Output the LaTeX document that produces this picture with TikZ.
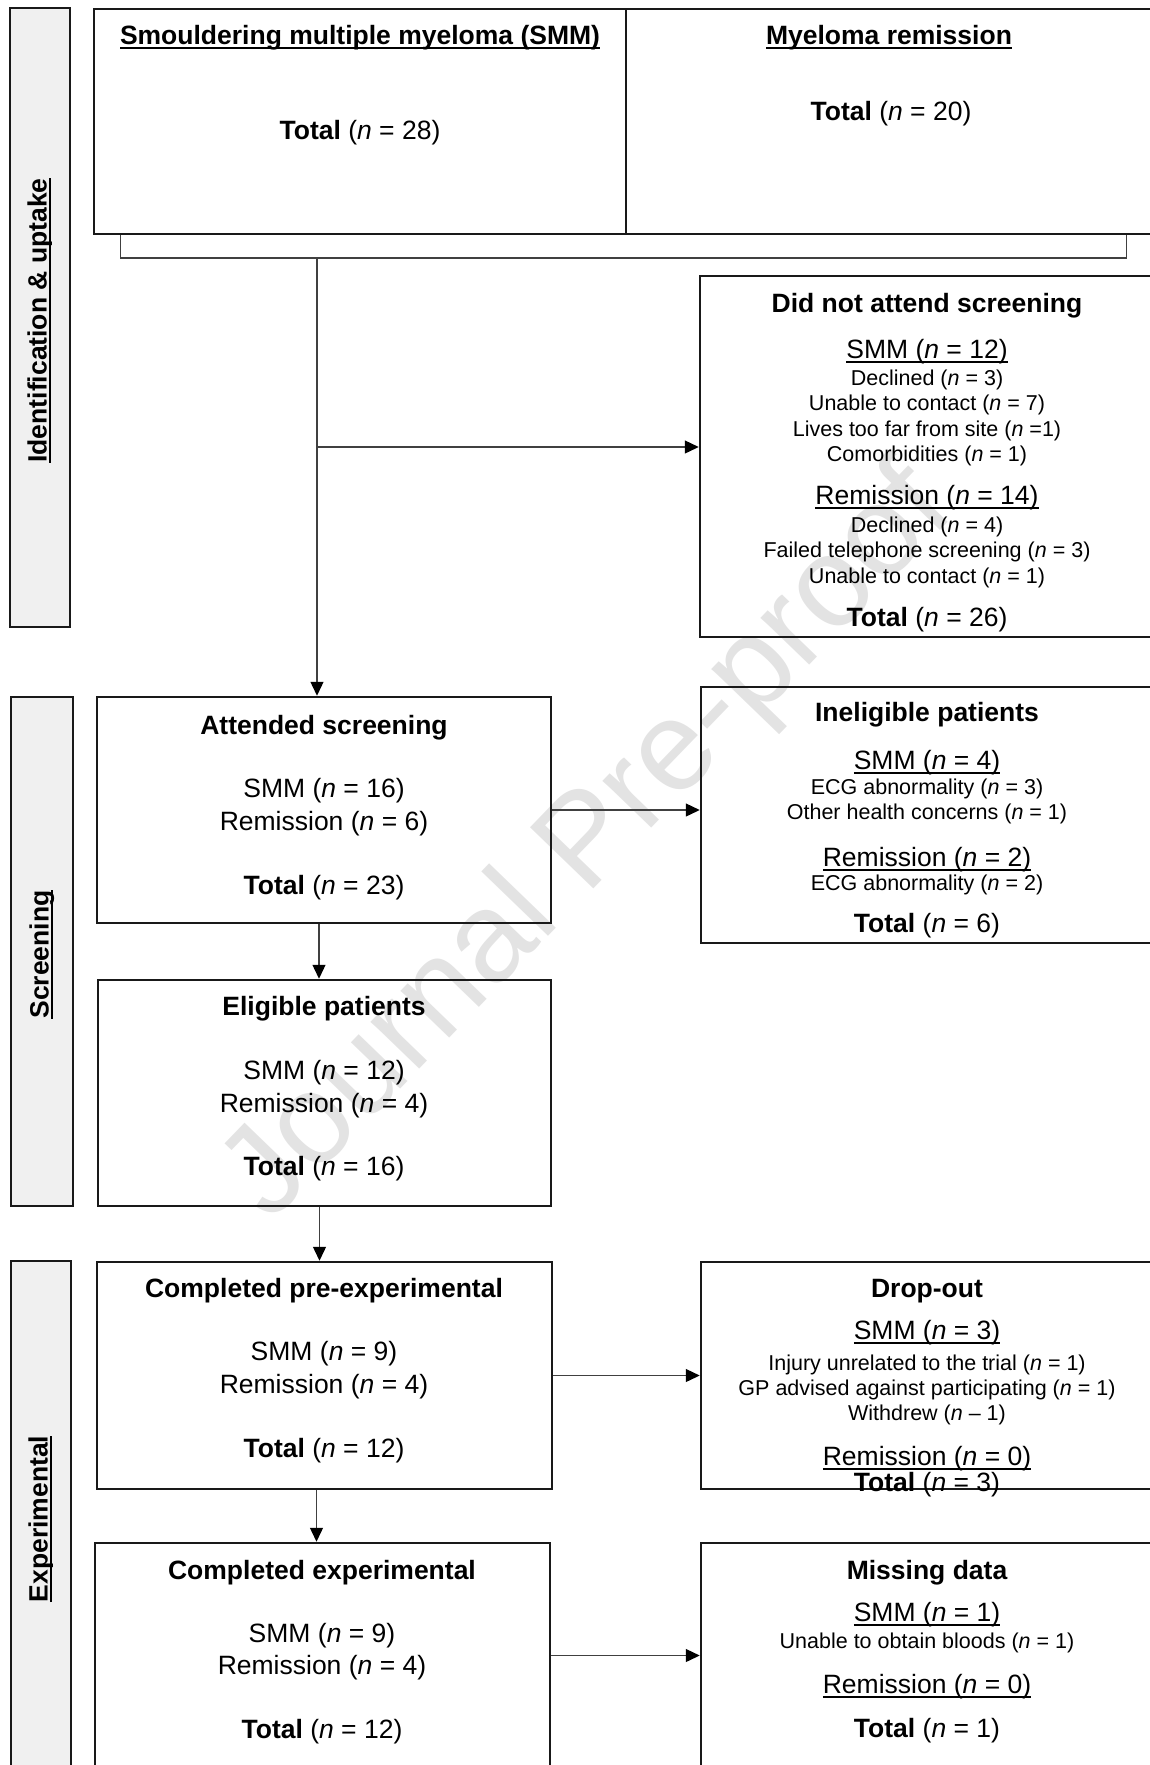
\documentclass[tikz,border=0pt]{standalone}
\usepackage{fontspec}
\setmainfont{Liberation Sans}
\usetikzlibrary{arrows.meta,fit,calc}
\newcommand\nn{\textit{n}}
\newcommand\myul[1]{\setbox0=\hbox{#1}\rlap{\rule[-4pt]{\wd0}{1.4pt}}\box0}
\tikzset{
  box/.style={draw=black!90, line width=2.5pt, inner sep=0pt},
  side/.style={draw=black!90, line width=2.5pt, fill=black!6, inner sep=0pt},
  big/.style={font=\fontsize{26.5}{30}\selectfont, inner sep=0pt, text height=19pt, text depth=5.6pt, yshift=-3pt},
  bigb/.style={big, font=\fontsize{26.5}{30}\selectfont\bfseries},
  small/.style={font=\fontsize{21.5}{25}\selectfont, inner sep=0pt, text height=15.5pt, text depth=4.5pt, yshift=-3pt},
  conn/.style={draw=black!75, line width=1.3pt},
  arr/.style={conn, -{Triangle[length=14pt,width=13pt,color=black]}},
  sidelbl/.style={bigb, rotate=90},
  wmark/.style={rotate=46, text=black!11, font=\fontsize{128}{128}\selectfont, inner sep=0pt}
}
\begin{document}
\begin{tikzpicture}[x=1pt,y=-1pt]
\useasboundingbox (0,0) rectangle (1149,1765);
% watermark
\node[wmark] (wm) at (590,845) {Journal Pre-proof};
% side bars
\node[side, fit={(10,8)(70,627)}] (s1) {};
\node[sidelbl] (s1l) at (s1.center) {\myul{Identification \& uptake}};
\node[side, fit={(11,697)(73,1206)}] (s2) {};
\node[sidelbl] (s2l) at (s2.center) {\myul{Screening}};
\node[side, fit={(11,1261)(71,1771)}] (s3) {};
\node[sidelbl] (s3l) at (s3.center) {\myul{Experimental}};
% boxes
\node[box, fit={(94,9)(626,234)}] (smm) {};
\node[box, fit={(626,9)(1152,234)}] (rem) {};
\node[box, fit={(700,276)(1152,637)}] (dna) {};
\node[box, fit={(97,697)(551,923)}] (att) {};
\node[box, fit={(701,687)(1152,943)}] (inel) {};
\node[box, fit={(98,980)(551,1206)}] (elig) {};
\node[box, fit={(97,1262)(552,1489)}] (pre) {};
\node[box, fit={(701,1262)(1152,1489)}] (drop) {};
\node[box, fit={(95,1543)(550,1768)}] (exp) {};
\node[box, fit={(701,1543)(1152,1768)}] (miss) {};
% top boxes text
\node[bigb] (smm-t) at (360,35) {\myul{Smouldering multiple myeloma (SMM)}};
\node[big] (smm-n) at (360,130) {\textbf{Total} (\nn{} = 28)};
\node[bigb] (rem-t) at (889,35) {\myul{Myeloma remission}};
\node[big] (rem-n) at (891,111) {\textbf{Total} (\nn{} = 20)};
% did not attend
\node[bigb] (dna-t) at (927,303) {Did not attend screening};
\node[big] (dna-a) at (927,349) {\myul{SMM (\nn{} = 12)}};
\node[small] (dna-a1) at (927,377) {Declined (\nn{} = 3)};
\node[small] (dna-a2) at (927,402) {Unable to contact (\nn{} = 7)};
\node[small] (dna-a3) at (927,428) {Lives too far from site (\nn{} =1)};
\node[small] (dna-a4) at (927,453) {Comorbidities (\nn{} = 1)};
\node[big] (dna-b) at (927,495) {\myul{Remission (\nn{} = 14)}};
\node[small] (dna-b1) at (927,524) {Declined (\nn{} = 4)};
\node[small] (dna-b2) at (927,549) {Failed telephone screening (\nn{} = 3)};
\node[small] (dna-b3) at (927,575) {Unable to contact (\nn{} = 1)};
\node[big] (dna-n) at (927,617) {\textbf{Total} (\nn{} = 26)};
% attended
\node[bigb] (att-t) at (324,725) {Attended screening};
\node[big] (att-a) at (324,788) {SMM (\nn{} = 16)};
\node[big] (att-b) at (324,821) {Remission (\nn{} = 6)};
\node[big] (att-n) at (324,885) {\textbf{Total} (\nn{} = 23)};
% ineligible
\node[bigb] (inel-t) at (927,712) {Ineligible patients};
\node[big] (inel-a) at (927,760) {\myul{SMM (\nn{} = 4)}};
\node[small] (inel-a1) at (927,786) {ECG abnormality (\nn{} = 3)};
\node[small] (inel-a2) at (927,811) {Other health concerns (\nn{} = 1)};
\node[big] (inel-b) at (927,857) {\myul{Remission (\nn{} = 2)}};
\node[small] (inel-b1) at (927,882) {ECG abnormality (\nn{} = 2)};
\node[big] (inel-n) at (927,923) {\textbf{Total} (\nn{} = 6)};
% eligible
\node[bigb] (elig-t) at (324,1006) {Eligible patients};
\node[big] (elig-a) at (324,1070) {SMM (\nn{} = 12)};
\node[big] (elig-b) at (324,1103) {Remission (\nn{} = 4)};
\node[big] (elig-n) at (324,1166) {\textbf{Total} (\nn{} = 16)};
% pre-experimental
\node[bigb] (pre-t) at (324,1288) {Completed pre-experimental};
\node[big] (pre-a) at (324,1351) {SMM (\nn{} = 9)};
\node[big] (pre-b) at (324,1384) {Remission (\nn{} = 4)};
\node[big] (pre-n) at (324,1448) {\textbf{Total} (\nn{} = 12)};
% drop-out
\node[bigb] (drop-t) at (927,1288) {Drop-out};
\node[big] (drop-a) at (927,1330) {\myul{SMM (\nn{} = 3)}};
\node[small] (drop-a1) at (927,1362) {Injury unrelated to the trial (\nn{} = 1)};
\node[small] (drop-a2) at (927,1387) {GP advised against participating (\nn{} = 1)};
\node[small] (drop-a3) at (927,1412) {Withdrew (\nn{} -- 1)};
\node[big] (drop-b) at (927,1456) {\myul{Remission (\nn{} = 0)}};
\node[big] (drop-n) at (927,1482) {\textbf{Total} (\nn{} = 3)};
% experimental
\node[bigb] (exp-t) at (322,1570) {Completed experimental};
\node[big] (exp-a) at (322,1633) {SMM (\nn{} = 9)};
\node[big] (exp-b) at (322,1665) {Remission (\nn{} = 4)};
\node[big] (exp-n) at (322,1729) {\textbf{Total} (\nn{} = 12)};
% missing data
\node[bigb] (miss-t) at (927,1570) {Missing data};
\node[big] (miss-a) at (927,1612) {\myul{SMM (\nn{} = 1)}};
\node[small] (miss-a1) at (927,1640) {Unable to obtain bloods (\nn{} = 1)};
\node[big] (miss-b) at (927,1684) {\myul{Remission (\nn{} = 0)}};
\node[big] (miss-n) at (927,1728) {\textbf{Total} (\nn{} = 1)};
% connectors
\coordinate (bl) at ([xshift=28pt]smm.south west);
\coordinate (brr) at ([xshift=-27pt]rem.south east);
\coordinate (br) at (317,258);
\coordinate (jn) at (317,447);
\draw[conn] (bl) -- (bl |- br) -- (brr |- br) -- (brr);
\draw[arr] (br) -- (br |- att.north);
\draw[arr] (jn) -- (jn -| dna.west);
\draw[arr] (att.east) -- (att.east -| inel.west);
\draw[arr] ([xshift=-5pt]att.south) -- ([xshift=-5pt]att.south |- elig.north);
\draw[arr] ([xshift=-5pt]elig.south) -- ([xshift=-5pt]elig.south |- pre.north);
\draw[arr] ([xshift=-8pt]pre.south) -- ([xshift=-8pt]pre.south |- exp.north);
\draw[arr] (pre.east) -- (pre.east -| drop.west);
\draw[arr] (exp.east) -- (exp.east -| miss.west);
\end{tikzpicture}
\end{document}
